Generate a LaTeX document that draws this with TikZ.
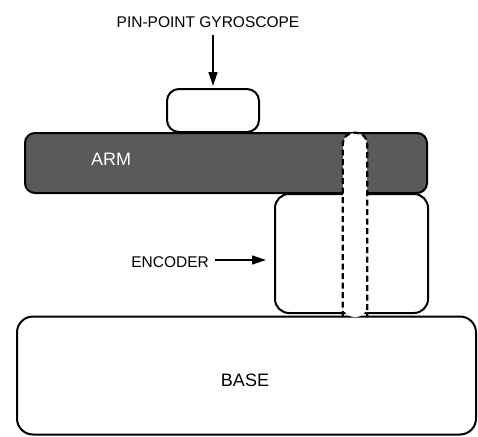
\documentclass[tikz,border=0pt]{standalone}
\usepackage{fontspec}
\setmainfont{Liberation Sans}
\usetikzlibrary{arrows.meta}
\definecolor{armgray}{HTML}{5A5A5A}
\begin{document}
\begin{tikzpicture}[x=1pt,y=-1pt,
  part/.style={draw=black, line width=2pt, inner sep=0pt, rounded corners=#1},
  part/.default=12pt,
  lbl/.style={inner sep=0pt, font=\fontsize{15.5}{18}\selectfont},
  bigl/.style={inner sep=0pt, font=\fontsize{18}{21}\selectfont},
  pointer/.style={line width=1.5pt, -{Triangle[length=14pt,width=9pt]}}]
\useasboundingbox[fill=white] (0,0) rectangle (478,436);

% base plate
\node[part=16pt, fill=white, minimum width=459pt, minimum height=118pt] (base) at (246.5,375.5) {};
\node[bigl] (basetext) at (245,380) {BASE};

% encoder housing
\node[part=14pt, fill=white, minimum width=153pt, minimum height=119pt] (enc) at (351.5,253.5) {};

% arm
\node[part=10pt, fill=armgray, minimum width=402pt, minimum height=60pt] (arm) at (226,163) {};
\node[bigl, text=white] (armtext) at (111,159) {ARM};

% gyroscope
\node[part=12pt, fill=white, minimum width=92pt, minimum height=43pt] (gyro) at (213,110.5) {};

% shaft through arm and encoder
\node[fill=white, rounded corners=11pt, inner sep=0pt, minimum width=24pt, minimum height=184pt] (shaft) at (355,225) {};
\draw[line width=2.2pt, dash pattern=on 6pt off 3.5pt, rounded corners=11pt]
  (shaft.south west) -- (shaft.north west) -- (shaft.north east) -- (shaft.south east);

% labels and pointers
\node[lbl] (gyrolabel) at (208,22) {PIN-POINT GYROSCOPE};
\coordinate (gyrofrom) at (gyro.north |- 0,35);
\draw[pointer] (gyrofrom) -- ([yshift=2pt]gyro.north);
\node[lbl, anchor=east] (enclabel) at (209,262) {ENCODER};
\coordinate (encfrom) at ([xshift=6pt]enclabel.east |- 0,260);
\draw[pointer] (encfrom) -- ([xshift=-8pt]encfrom -| enc.west);
\end{tikzpicture}
\end{document}
